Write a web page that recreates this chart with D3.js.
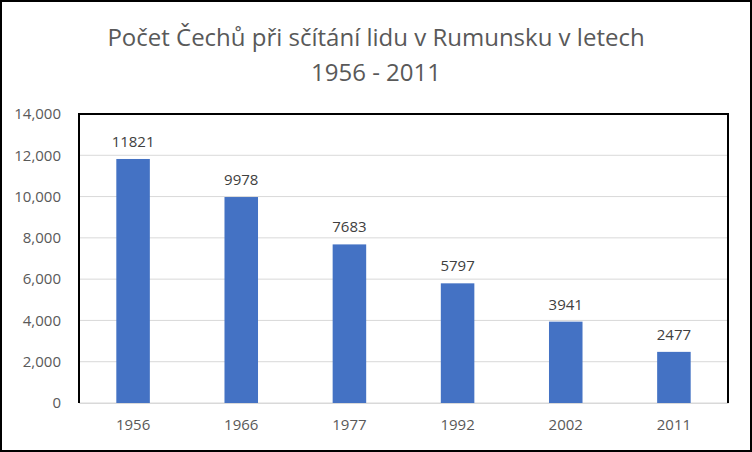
<!DOCTYPE html>
<html><head><meta charset="utf-8">
<script src="https://cdn.jsdelivr.net/npm/d3@7"></script>
<style>body{margin:0;background:#fff}svg{display:block;font-family:"Open Sans",sans-serif}</style>
</head><body>
<svg id="c" width="752" height="452"></svg>
<script>
// chart data
const years = ['1956', '1966', '1977', '1992', '2002', '2011'];
const counts = [11821, 9978, 7683, 5797, 3941, 2477];
const yTicks = [0, 2000, 4000, 6000, 8000, 10000, 12000, 14000];

const svg = d3.select('#c');
const margin = { top: 114, right: 24, bottom: 49, left: 79 };
const width = 752 - margin.left - margin.right;
const height = 452 - margin.top - margin.bottom;

svg.append('rect').attr('x', 1).attr('y', 1).attr('width', 750).attr('height', 450)
    .attr('fill', 'none').attr('stroke', '#000').attr('stroke-width', 2);

svg.append('text').attr('x', 376).attr('y', 46).attr('text-anchor', 'middle')
    .style('font-size', '24px').attr('fill', '#595959').text('Počet Čechů při sčítání lidu v Rumunsku v letech');
svg.append('text').attr('x', 376).attr('y', 81).attr('text-anchor', 'middle')
    .style('font-size', '24px').attr('fill', '#595959').text('1956 - 2011');

const x = d3.scaleBand().domain(years).range([0, width]).paddingInner(0.69).paddingOuter(0.345);
const y = d3.scaleLinear().domain([0, 14000]).range([height, 0]);

const g = svg.append('g').attr('transform', `translate(${margin.left},${margin.top})`);

// gridlines
g.selectAll('.grid').data(yTicks).enter().append('line')
    .attr('x1', 0).attr('x2', width).attr('y1', d => y(d)).attr('y2', d => y(d))
    .attr('stroke', '#d9d9d9').attr('stroke-width', 1);

// y labels
g.append('g').call(d3.axisLeft(y).tickValues(yTicks).tickSize(0).tickPadding(18))
    .call(a => a.select('.domain').remove())
    .selectAll('text').style('font-size', '15px').attr('fill', '#595959').style('font-family', '"Open Sans",sans-serif');

// x labels
g.append('g').attr('transform', `translate(0,${height})`)
    .call(d3.axisBottom(x).tickSize(0).tickPadding(16))
    .call(a => a.select('.domain').attr('stroke', '#d9d9d9'))
    .selectAll('text').style('font-size', '15px').attr('fill', '#595959').style('font-family', '"Open Sans",sans-serif');

g.selectAll('.bar').data(counts).enter().append('rect')
    .attr('x', (d, i) => x(years[i])).attr('width', x.bandwidth())
    .attr('y', d => y(d)).attr('height', d => height - y(d)).attr('fill', '#4472c4');

g.selectAll('.lbl').data(counts).enter().append('text')
    .attr('x', (d, i) => x(years[i]) + x.bandwidth() / 2).attr('y', d => y(d) - 12)
    .attr('text-anchor', 'middle').style('font-size', '15px').attr('fill', '#404040').text(d => d);

// plot frame (left, top, right)
g.append('path').attr('d', `M0,${height}V0H${width}V${height}`)
    .attr('fill', 'none').attr('stroke', '#000').attr('stroke-width', 2);
</script>
</body></html>
